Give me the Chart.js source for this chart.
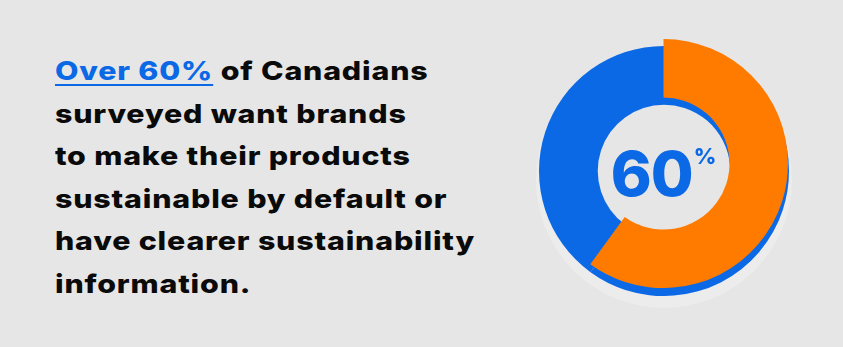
<!DOCTYPE html>
<html lang="en">
<head>
  <meta charset="UTF-8" />
  <title>Canadians and sustainability</title>
  <script src="https://cdn.jsdelivr.net/npm/chart.js"></script>
  <style>
    html, body {
      margin: 0;
      padding: 0;
    }
    body {
      width: 843px;
      height: 347px;
      background: #e6e6e6;
      position: relative;
      overflow: hidden;
      font-family: "Inter", "Lato", sans-serif;
    }
    #headline {
      position: absolute;
      left: 55px;
      top: 50px;
      font-size: 26px;
      font-weight: 800;
      line-height: 42.5px;
      letter-spacing: 0.7px;
      color: #0a0a0a;
      white-space: nowrap;
      transform-origin: 0 0;
    }
    #headline .line {
      display: inline-block;
    }
    #headline .hl {
      color: #0b69e6;
      text-decoration: underline;
      text-decoration-thickness: 2px;
      text-underline-offset: 4px;
    }
    canvas {
      position: absolute;
    }
    #big {
      position: absolute;
      left: 595px;
      top: 136px;
      width: 136px;
      text-align: center;
      color: #0b69e6;
      font-family: "Inter", sans-serif;
      font-weight: 800;
      font-size: 62px;
      line-height: 76px;
      letter-spacing: -1px;
    }
    #big sup {
      font-size: 22px;
      font-weight: 800;
      position: relative;
      top: -10px;
      margin-left: 1px;
      vertical-align: super;
      line-height: 0;
    }
  </style>
</head>
<body>

  <div id="headline">
    <span class="line"><span class="hl">Over 60%</span> of Canadians</span><br>
    <span class="line">surveyed want brands</span><br>
    <span class="line">to make their products</span><br>
    <span class="line">sustainable by default or</span><br>
    <span class="line" id="widest">have clearer sustainability</span><br>
    <span class="line">information.</span>
  </div>

  <canvas id="shadow" width="256" height="256" style="left:536px; top:52px;"></canvas>
  <canvas id="base" width="250" height="250" style="left:539px; top:46px;"></canvas>
  <canvas id="share" width="249" height="249" style="left:539px; top:39px;"></canvas>

  <div id="big">60<sup>%</sup></div>

  <script>
    const labels = ["Want it", "Others"];
    const shareValues = [60, 40];
    const shareColors = ["#ff7b00", "rgba(0,0,0,0)"];
    const baseColors = ["#0b69e6", "#0b69e6"];

    // widen the headline so its widest line runs to x = 475 (the original face is a wide geometric sans)
    const head = document.getElementById("headline");
    const w = document.getElementById("widest").getBoundingClientRect().width;
    head.style.transform = "scaleX(" + (420 / w).toFixed(3) + ")";

    const common = {
      responsive: false,
      animation: false,
      events: [],
      layout: { padding: 0 },
      plugins: { legend: { display: false }, tooltip: { enabled: false } }
    };

    // soft light rim under everything
    new Chart(document.getElementById("shadow"), {
      type: "doughnut",
      data: {
        labels: ["shadow"],
        datasets: [{ data: [100], backgroundColor: ["#ececec"], borderWidth: 0 }]
      },
      options: { ...common, cutout: "70%" }
    });

    // blue ring, sits a little lower
    new Chart(document.getElementById("base"), {
      type: "doughnut",
      data: {
        labels,
        datasets: [{ data: shareValues, backgroundColor: baseColors, borderWidth: 0 }]
      },
      options: { ...common, cutout: "53%" }
    });

    // orange 60% arc on top
    new Chart(document.getElementById("share"), {
      type: "doughnut",
      data: {
        labels,
        datasets: [{ data: shareValues, backgroundColor: shareColors, borderWidth: 0 }]
      },
      options: { ...common, cutout: "53%" }
    });
  </script>

</body>
</html>
